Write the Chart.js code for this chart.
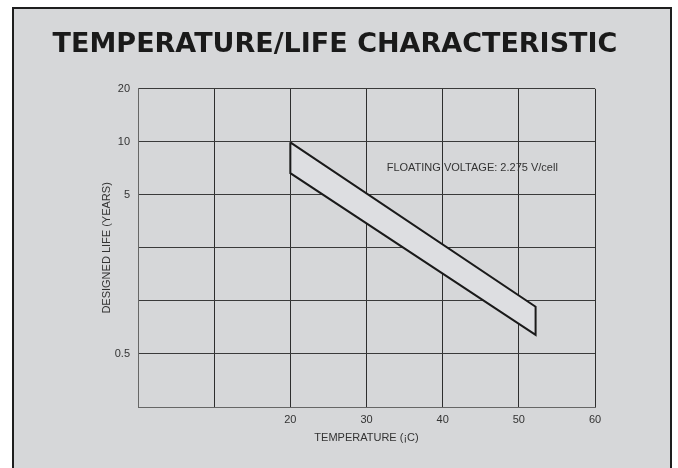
<!DOCTYPE html>
<html>
<head>
<meta charset="utf-8">
<script src="https://cdn.jsdelivr.net/npm/chart.js@4.4.1/dist/chart.umd.min.js"></script>
<style>
  html, body { margin: 0; padding: 0; background: #ffffff; width: 678px; height: 468px; overflow: hidden; }
  #panel { position: absolute; left: 12px; top: 7px; width: 656px; height: 500px; background: #d6d7d9; border: 2px solid #1e1e1e; }
  #wrap { position: absolute; left: 0; top: 0; width: 678px; height: 468px; }
</style>
</head>
<body>
<div id="panel"></div>
<div id="wrap"><canvas id="c" width="678" height="468"></canvas></div>
<script>
// ---- data ----
const chartTitle = 'TEMPERATURE/LIFE CHARACTERISTIC';
const xTitle = 'TEMPERATURE (¡C)';
const yTitle = 'DESIGNED LIFE (YEARS)';
const xTickLabels = ['', '', '20', '30', '40', '50', '60'];      // at 0,10,...,60
const yTickLabels = ['', '0.5', '', '', '5', '10', '20'];        // evenly spaced grid rows, bottom to top
const bandX = [20, 52.2];                 // temperature at band ends
const bandUpper = [4.99, 1.89];           // upper edge (grid-row units)
const bandLower = [4.41, 1.36];           // lower edge (grid-row units)
const noteText = 'FLOATING VOLTAGE: 2.275 V/cell';
const notePos = [32.65, 4.51];

const bandPoints = [
  {x: bandX[0], y: bandUpper[0]},
  {x: bandX[1], y: bandUpper[1]},
  {x: bandX[1], y: bandLower[1]},
  {x: bandX[0], y: bandLower[0]},
  {x: bandX[0], y: bandUpper[0]}
];

const notePlugin = {
  id: 'note',
  afterDatasetsDraw(chart) {
    const {ctx, scales} = chart;
    ctx.save();
    ctx.font = '11px "Liberation Sans", Arial, sans-serif';
    ctx.fillStyle = '#333333';
    ctx.textAlign = 'left';
    ctx.textBaseline = 'middle';
    ctx.fillText(noteText, scales.x.getPixelForValue(notePos[0]), scales.y.getPixelForValue(notePos[1]));
    ctx.restore();
  }
};

new Chart(document.getElementById('c'), {
  type: 'scatter',
  data: {
    datasets: [{
      data: bandPoints,
      showLine: true,
      fill: 'shape',
      backgroundColor: '#dddee1',
      borderColor: '#1a1a1a',
      borderWidth: 2,
      borderJoinStyle: 'miter',
      pointRadius: 0,
      tension: 0
    }]
  },
  options: {
    responsive: false,
    animation: false,
    events: [],
    layout: { padding: { left: 0, right: 8, top: 0, bottom: 20 } },
    plugins: {
      legend: { display: false },
      tooltip: { enabled: false },
      title: {
        display: true,
        text: chartTitle,
        color: '#1a1a1a',
        font: { family: '"DejaVu Sans", "Liberation Sans", Arial, sans-serif', size: 27, weight: 'bold', lineHeight: 1.2 },
        padding: { top: 29, bottom: 27.4 }
      }
    },
    scales: {
      x: {
        type: 'linear',
        min: 0, max: 60,
        afterFit(s) { s.height = 41; },
        ticks: {
          stepSize: 10,
          padding: 6,
          color: '#333333',
          font: { family: '"Liberation Sans", Arial, sans-serif', size: 11 },
          callback: v => xTickLabels[Math.round(v / 10)]
        },
        grid: { color: '#2e2e2e', lineWidth: 1, drawTicks: false },
        border: { color: '#666666', width: 1 },
        title: {
          display: true, text: xTitle, color: '#333333',
          font: { family: '"Liberation Sans", Arial, sans-serif', size: 11 },
          padding: { top: 0, bottom: 3.4 }
        }
      },
      y: {
        type: 'linear',
        min: 0, max: 6,
        afterFit(s) { s.width = 138; },
        ticks: {
          stepSize: 1,
          padding: 8,
          color: '#333333',
          font: { family: '"Liberation Sans", Arial, sans-serif', size: 11 },
          callback: v => yTickLabels[Math.round(v)]
        },
        grid: { color: '#3a3a3a', lineWidth: 1, drawTicks: false },
        border: { color: '#666666', width: 1 },
        title: {
          display: true, text: yTitle, color: '#333333',
          font: { family: '"Liberation Sans", Arial, sans-serif', size: 11 },
          padding: { top: 100.4, bottom: 0 }
        }
      },
      yRight: {
        type: 'linear',
        position: 'right',
        min: 0, max: 6,
        afterFit(s) { s.width = 75; },
        grid: { display: false },
        border: { display: false },
        ticks: { display: false }
      }
    }
  },
  plugins: [notePlugin]
});
</script>
</body>
</html>
